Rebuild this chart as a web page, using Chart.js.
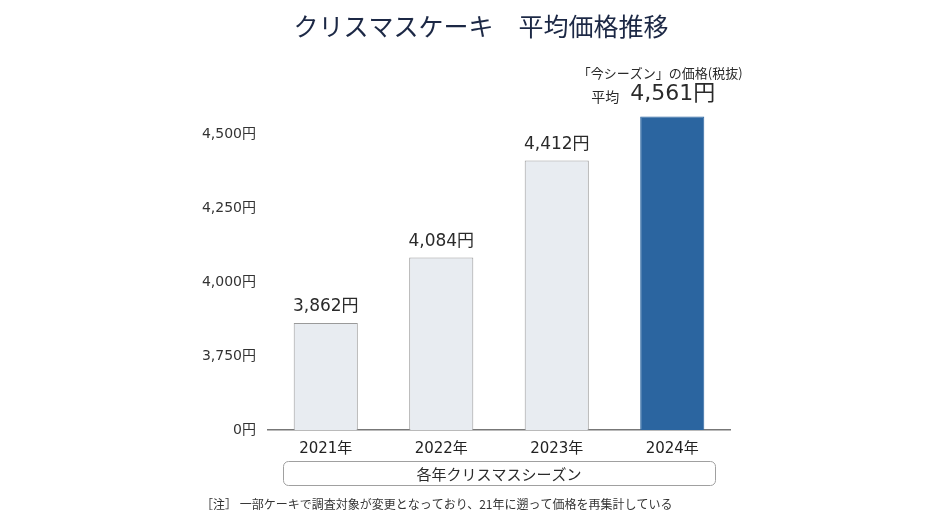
<!DOCTYPE html>
<html>
<head>
<meta charset="utf-8">
<script src="https://cdn.jsdelivr.net/npm/chart.js@4.4.0/dist/chart.umd.min.js"></script>
<style>
  html, body { margin: 0; padding: 0; background: #fff; }
  #wrap { width: 934px; height: 525px; position: relative; }
</style>
</head>
<body>
<div id="wrap"><canvas id="cakeChart" width="934" height="525"></canvas></div>
<script>
const years = ['2021年', '2022年', '2023年', '2024年'];
const prices = [3862, 4084, 4412, 4561];
const yTickValues = [0, 3750, 4000, 4250, 4500];
const barColors = ['#e8ecf1', '#e8ecf1', '#e8ecf1', '#2b65a0'];
const borderColors = ['#9a9a9a', '#9a9a9a', '#9a9a9a', '#2b65a0'];

// broken axis: 0円 sits where 3,500円 would be
const AXIS_BASE = 3500;
const toAxis = v => (v === 0 ? 0 : v - AXIS_BASE);
const yen = v => v.toLocaleString('en-US') + '円';

const JP = '"Noto Sans CJK JP", "Noto Sans", sans-serif';
const NUM = '"DejaVu Sans", "Noto Sans CJK JP", sans-serif';

const annotations = {
  id: 'annotations',
  afterDatasetsDraw(chart) {
    const ctx = chart.ctx;
    const meta = chart.getDatasetMeta(0);
    ctx.save();
    ctx.textAlign = 'center';
    ctx.textBaseline = 'middle';

    // value labels
    meta.data.forEach((bar, i) => {
      if (i === prices.length - 1) return;
      ctx.fillStyle = '#2a2a2a';
      ctx.font = '17px ' + NUM;
      ctx.fillText(yen(prices[i]), bar.x, bar.y - 16);
    });

    // current season label
    const last = meta.data[prices.length - 1];
    ctx.fillStyle = '#2a2a2a';
    ctx.font = '13px ' + JP;
    ctx.fillText('「今シーズン」の価格(税抜)', last.x - 12, last.y - 43);
    ctx.textAlign = 'left';
    ctx.font = '14px ' + JP;
    ctx.fillText('平均', last.x - 81, last.y - 20);
    ctx.font = '22px ' + NUM;
    ctx.fillText(yen(prices[prices.length - 1]), last.x - 42, last.y - 22);

    // title
    ctx.textAlign = 'center';
    ctx.fillStyle = '#1c2845';
    ctx.font = '25px ' + JP;
    ctx.fillText('クリスマスケーキ　平均価格推移', 481, 26);

    // category box
    ctx.strokeStyle = '#a0a0a0';
    ctx.lineWidth = 1;
    ctx.beginPath();
    ctx.roundRect(283.5, 461.5, 432, 24, 5);
    ctx.stroke();
    ctx.fillStyle = '#2a2a2a';
    ctx.font = '15px ' + JP;
    ctx.fillText('各年クリスマスシーズン', 499, 474);

    // note
    ctx.textAlign = 'left';
    ctx.font = '12px ' + JP;
    ctx.fillStyle = '#333';
    ctx.fillText('［注］ 一部ケーキで調査対象が変更となっており、21年に遡って価格を再集計している', 201, 504);
    ctx.restore();
  }
};

new Chart(document.getElementById('cakeChart').getContext('2d'), {
  type: 'bar',
  data: {
    labels: years,
    datasets: [{
      data: prices.map(toAxis),
      backgroundColor: barColors,
      borderColor: borderColors,
      borderWidth: 1,
      categoryPercentage: 1,
      barPercentage: 0.555
    }]
  },
  options: {
    responsive: false,
    animation: false,
    layout: { padding: { left: 0, right: 204, top: 107, bottom: 0 } },
    plugins: {
      legend: { display: false },
      tooltip: { enabled: false }
    },
    scales: {
      x: {
        afterFit: s => { s.height = 95; },
        grid: { display: false, drawTicks: false },
        border: { display: true, color: '#777', width: 1.5 },
        ticks: { color: '#222', padding: 10, font: { family: NUM, size: 15 } }
      },
      y: {
        min: 0,
        max: 1093,
        afterFit: s => { s.width = 268; },
        afterBuildTicks: s => { s.ticks = yTickValues.map(v => ({ value: toAxis(v) })); },
        grid: { display: false, drawTicks: false },
        border: { display: false },
        ticks: {
          color: '#333',
          padding: 12,
          font: { family: NUM, size: 14 },
          callback: v => (v === 0 ? '0円' : yen(v + AXIS_BASE))
        }
      }
    }
  },
  plugins: [annotations]
});
</script>
</body>
</html>
